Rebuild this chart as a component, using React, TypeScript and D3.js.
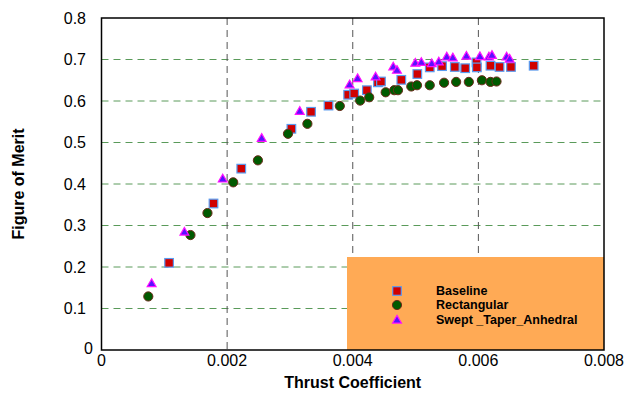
import React from "react";
import * as d3 from "d3";

const xTicks = [0, 0.002, 0.004, 0.006, 0.008];
const yTicks = [0, 0.1, 0.2, 0.3, 0.4, 0.5, 0.6, 0.7, 0.8];
const xTickLabels = ["0", "0.002", "0.004", "0.006", "0.008"];
const yTickLabels = ["0", "0.1", "0.2", "0.3", "0.4", "0.5", "0.6", "0.7", "0.8"];

const baselineX = [0.001076, 0.001783, 0.002225, 0.003023, 0.003336, 0.003614, 0.003927, 0.004023, 0.004225, 0.004401, 0.004449, 0.004773, 0.005028, 0.005226, 0.005422, 0.005625, 0.00579, 0.00597, 0.005976, 0.006193, 0.006337, 0.006519, 0.00688];
const baselineY = [0.21, 0.353, 0.437, 0.533, 0.574, 0.589, 0.615, 0.618, 0.626, 0.645, 0.647, 0.651, 0.665, 0.681, 0.684, 0.682, 0.679, 0.693, 0.681, 0.685, 0.682, 0.682, 0.685];

const rectX = [0.000745, 0.001416, 0.001687, 0.002097, 0.00249, 0.002969, 0.003278, 0.003794, 0.004118, 0.004262, 0.004524, 0.00466, 0.00472, 0.004932, 0.005023, 0.005226, 0.005454, 0.005646, 0.005848, 0.006056, 0.006193, 0.006289];
const rectY = [0.129, 0.277, 0.33, 0.404, 0.457, 0.521, 0.545, 0.588, 0.601, 0.609, 0.621, 0.626, 0.626, 0.635, 0.638, 0.638, 0.644, 0.646, 0.646, 0.65, 0.646, 0.647];

const sweptX = [0.000798, 0.00132, 0.00193, 0.00255, 0.003156, 0.00395, 0.004077, 0.004364, 0.004645, 0.004704, 0.004996, 0.005092, 0.005258, 0.00537, 0.005497, 0.005593, 0.00581, 0.006024, 0.006168, 0.006216, 0.00645, 0.006497];
const sweptY = [0.159, 0.283, 0.411, 0.509, 0.574, 0.638, 0.653, 0.657, 0.681, 0.673, 0.69, 0.692, 0.689, 0.693, 0.705, 0.703, 0.707, 0.706, 0.705, 0.709, 0.705, 0.7];

const legendLabels = ["Baseline", "Rectangular", "Swept _Taper_Anhedral"];

const W = 632;
const H = 394;
const L = 101.5, R = 604, T = 18, B = 350;

const SQ = { fill: "#d00000", stroke: "#5a9cf0" };
const CI = { fill: "#005a00", stroke: "#6b2a1a" };
const TR = { fill: "#5a10ff", stroke: "#ff10ff" };

const triPath = d3.symbol().type(d3.symbolTriangle).size(34)()!;

function Square({ x, y }: { x: number; y: number }) {
  return <rect x={x - 4.3} y={y - 4.3} width={8.6} height={8.6} fill={SQ.fill} stroke={SQ.stroke} strokeWidth={1.2} />;
}
function Circle({ x, y }: { x: number; y: number }) {
  return <circle cx={x} cy={y} r={4.6} fill={CI.fill} stroke={CI.stroke} strokeWidth={1} />;
}
function Tri({ x, y }: { x: number; y: number }) {
  return <path d={triPath} transform={`translate(${x},${y})`} fill={TR.fill} stroke={TR.stroke} strokeWidth={1.2} />;
}

export default function App() {
  const x = d3.scaleLinear().domain([0, 0.008]).range([L, R]);
  const y = d3.scaleLinear().domain([0, 0.8]).range([B, T]);
  const font = "Arial, 'Liberation Sans', Helvetica, sans-serif";

  const legX = 347, legY = 257;
  const rows = [291, 305, 320];

  return (
    <svg width={W} height={H} style={{ position: "absolute", left: 0, top: 0, background: "#fff" }} fontFamily={font}>
      {yTicks.slice(1, -1).map((t) => (
        <line key={"h" + t} x1={L} x2={R} y1={y(t)} y2={y(t)} stroke="#5a9a5a" strokeWidth={1} strokeDasharray="7,5" />
      ))}
      {xTicks.slice(1, -1).map((t) => (
        <line key={"v" + t} x1={x(t)} x2={x(t)} y1={T} y2={B} stroke="#555" strokeWidth={1} strokeDasharray="7,5" />
      ))}
      {baselineX.map((v, i) => <Square key={"b" + i} x={x(v)} y={y(baselineY[i])} />)}
      {rectX.map((v, i) => <Circle key={"r" + i} x={x(v)} y={y(rectY[i])} />)}
      {sweptX.map((v, i) => <Tri key={"s" + i} x={x(v)} y={y(sweptY[i])} />)}
      <rect x={legX} y={legY} width={R - legX} height={B - legY} fill="#ffaa55" />
      <Square x={397} y={rows[0]} />
      <Circle x={397} y={rows[1]} />
      <Tri x={397} y={rows[2] + 0.5} />
      {legendLabels.map((l, i) => (
        <text key={l} x={436} y={rows[i]} dy="0.35em" fontSize={12.5} fontWeight="bold" fill="#000">{l}</text>
      ))}
      <rect x={L} y={T} width={R - L} height={B - T} fill="none" stroke="#000" strokeWidth={1.5} />
      {xTicks.map((t, i) => (
        <text key={"xt" + t} x={x(t)} y={366} textAnchor="middle" fontSize={16} fill="#000">{xTickLabels[i]}</text>
      ))}
      {yTicks.map((t, i) => (
        <text key={"yt" + t} x={t === 0 ? 93 : 86} y={t === 0 ? 348 : y(t)} dy="0.35em" textAnchor="end" fontSize={16} fill="#000">{yTickLabels[i]}</text>
      ))}
      <text x={(L + R) / 2} y={388} textAnchor="middle" fontSize={16} fontWeight="bold" fill="#000">Thrust Coefficient</text>
      <text transform={`translate(24,${(T + B) / 2}) rotate(-90)`} textAnchor="middle" fontSize={16} fontWeight="bold" fill="#000">Figure of Merit</text>
    </svg>
  );
}
